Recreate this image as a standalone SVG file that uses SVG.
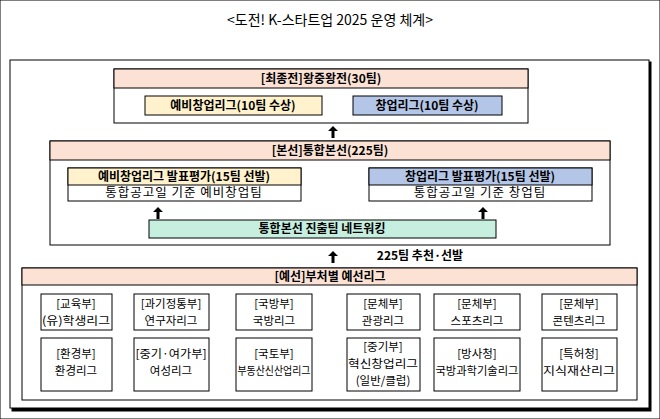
<svg xmlns="http://www.w3.org/2000/svg" width="660" height="419" viewBox="0 0 660 419">
<defs><style>
text{font-family:"Noto Sans CJK KR","Noto Sans",sans-serif;fill:#000;text-anchor:middle}
.b{font-weight:bold;font-size:12px}
.n{font-size:12.5px;letter-spacing:1px}
.s{font-size:11.5px}
rect{stroke:#000;stroke-width:1}
.w{fill:#fff}.p{fill:#fbe2d5}.y{fill:#fff2cc}.bl{fill:#b4c6e7}.g{fill:#c6efe0}
</style>
<path id="ar" d="M-5,4 L0,-1 L5,4 L1.5,4 L1.5,11 L-1.5,11 L-1.5,4 Z" fill="#000"/>
</defs>
<rect width="660" height="419" fill="#fff" stroke="none"/>
<text x="330" y="25" style="font-size:14px">&lt;도전! K-스타트업 2025 운영 체계&gt;</text>
<rect x="12" y="62" width="639" height="349" fill="#000" stroke="none"/>
<rect x="10" y="60" width="639" height="348" class="w"/>
<g id="final">
<rect x="114" y="69" width="414" height="54" class="w"/>
<rect x="114" y="69" width="414" height="19" class="p"/>
<text x="321" y="83" class="b">[최종전]왕중왕전(30팀)</text>
<rect x="145" y="96" width="177" height="19" class="y"/>
<text x="233" y="110" class="b">예비창업리그(10팀 수상)</text>
<rect x="353" y="96" width="149" height="19" class="bl"/>
<text x="427" y="110" class="b">창업리그(10팀 수상)</text>
</g>
<g id="main">
<rect x="50" y="141" width="560" height="104" class="w"/>
<rect x="50" y="141" width="560" height="19" class="p"/>
<text x="330" y="155" class="b">[본선]통합본선(225팀)</text>
<rect x="68" y="168" width="233" height="33" class="w"/>
<rect x="68" y="168" width="233" height="17" class="y"/>
<text x="184" y="181" class="b">예비창업리그 발표평가(15팀 선발)</text>
<text x="184" y="197" class="n">통합공고일 기준 예비창업팀</text>
<rect x="369" y="168" width="223" height="33" class="w"/>
<rect x="369" y="168" width="223" height="17" class="bl"/>
<text x="480" y="181" class="b">창업리그 발표평가(15팀 선발)</text>
<text x="480" y="197" class="n">통합공고일 기준 창업팀</text>
<rect x="149" y="220" width="347" height="18" class="g"/>
<text x="322" y="233" class="b">통합본선 진출팀 네트워킹</text>
</g>
<g id="prelim">
<rect x="22" y="268" width="615" height="132" class="w"/>
<rect x="22" y="268" width="615" height="17" class="p"/>
<text x="330" y="281" class="b">[예선]부처별 예선리그</text>
<rect x="41" y="294" width="71" height="36" class="w"/><text x="76" y="308" class="s">[교육부]</text><text x="76" y="325" class="s" textLength="68" lengthAdjust="spacingAndGlyphs">(유)학생리그</text>
<rect x="134" y="294" width="75" height="36" class="w"/><text x="171" y="308" class="s">[과기정통부]</text><text x="171" y="325" class="s">연구자리그</text>
<rect x="236" y="294" width="76" height="36" class="w"/><text x="274" y="308" class="s">[국방부]</text><text x="274" y="325" class="s">국방리그</text>
<rect x="347" y="294" width="73" height="36" class="w"/><text x="383" y="308" class="s">[문체부]</text><text x="383" y="325" class="s">관광리그</text>
<rect x="434" y="294" width="86" height="36" class="w"/><text x="477" y="308" class="s">[문체부]</text><text x="477" y="325" class="s">스포츠리그</text>
<rect x="542" y="294" width="75" height="36" class="w"/><text x="579" y="308" class="s">[문체부]</text><text x="579" y="325" class="s">콘텐츠리그</text>
<rect x="41" y="338" width="71" height="53" class="w"/><text x="76" y="358" class="s">[환경부]</text><text x="76" y="375" class="s">환경리그</text>
<rect x="134" y="338" width="75" height="53" class="w"/><text x="171" y="358" class="s" textLength="71" lengthAdjust="spacingAndGlyphs">[중기·여가부]</text><text x="171" y="375" class="s">여성리그</text>
<rect x="236" y="338" width="76" height="53" class="w"/><text x="274" y="358" class="s">[국토부]</text><text x="274" y="375" class="s" textLength="73" lengthAdjust="spacingAndGlyphs">부동산신산업리그</text>
<rect x="347" y="338" width="73" height="53" class="w"/><text x="383" y="351" class="s">[중기부]</text><text x="383" y="368" class="s" textLength="70" lengthAdjust="spacingAndGlyphs">혁신창업리그</text><text x="383" y="385" class="s">(일반/클럽)</text>
<rect x="434" y="338" width="86" height="53" class="w"/><text x="477" y="358" class="s">[방사청]</text><text x="477" y="375" class="s" textLength="83" lengthAdjust="spacingAndGlyphs">국방과학기술리그</text>
<rect x="542" y="338" width="75" height="53" class="w"/><text x="579" y="358" class="s">[특허청]</text><text x="579" y="375" class="s" textLength="72" lengthAdjust="spacingAndGlyphs">지식재산리그</text>
</g>
<g id="connectors">
<use href="#ar" x="333" y="127"/>
<use href="#ar" x="158" y="208"/>
<use href="#ar" x="483" y="208"/>
<use href="#ar" x="333" y="252"/>
</g>
<text x="420" y="260" class="b">225팀 추천·선발</text>
</svg>
